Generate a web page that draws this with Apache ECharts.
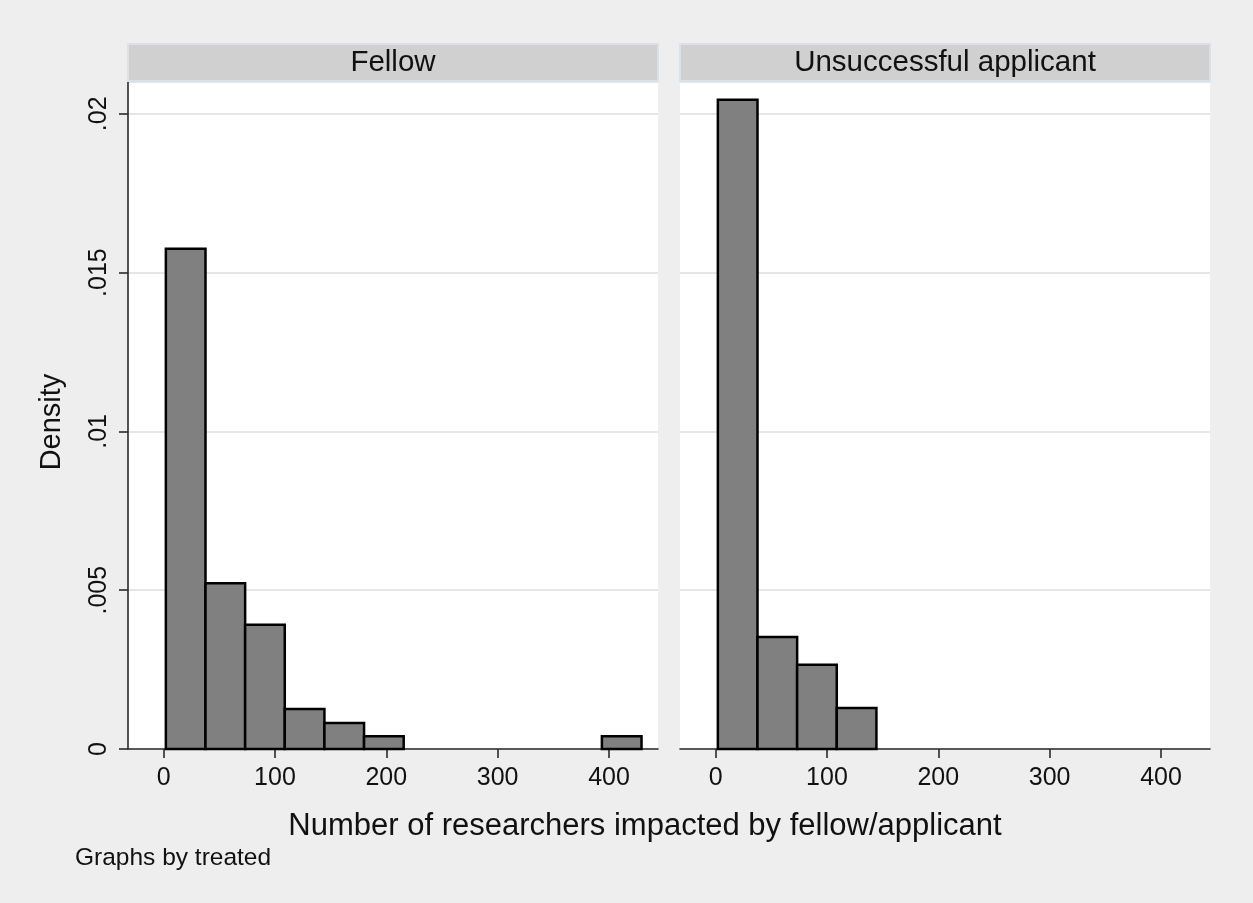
<!DOCTYPE html>
<html>
<head>
<meta charset="utf-8">
<script src="https://cdn.jsdelivr.net/npm/echarts@6/dist/echarts.min.js"></script>
<style>
  html, body { margin: 0; padding: 0; background: #eeeeee; }
  #chart { width: 1253px; height: 903px; }
</style>
</head>
<body>
<div id="chart"></div>
<script>
// Histogram bin edges (number of researchers impacted), shared by both panels
const binEdges = [2, 37.6, 73.2, 108.8, 144.4, 180, 215.6, 251.2, 286.8, 322.4, 358, 393.6, 429.2];
// Density per bin, one value per bin (0 = empty bin)
const fellowDensity = [0.01575, 0.00522, 0.00391, 0.00126, 0.00082, 0.0004, 0, 0, 0, 0, 0, 0.0004];
const applicantDensity = [0.02044, 0.00353, 0.00265, 0.00129, 0, 0, 0, 0, 0, 0, 0, 0];
// Panel titles and axis text
const panelTitles = ['Fellow', 'Unsuccessful applicant'];
const xTicks = [0, 100, 200, 300, 400];
const yTickStep = 0.005;
const xTitle = 'Number of researchers impacted by fellow/applicant';
const yTitle = 'Density';
const noteText = 'Graphs by treated';

const FONT = '"Liberation Sans", Arial, Helvetica, sans-serif';

function binsToData(dens) {
  const out = [];
  dens.forEach((d, i) => {
    if (d > 0) out.push([binEdges[i], binEdges[i + 1], d]);
  });
  return out;
}

function renderBar(params, api) {
  const p0 = api.coord([api.value(0), api.value(2)]);
  const p1 = api.coord([api.value(1), 0]);
  return {
    type: 'rect',
    shape: { x: p0[0], y: p0[1], width: p1[0] - p0[0], height: p1[1] - p0[1] },
    style: { fill: '#808080', stroke: '#000', lineWidth: 2.5 }
  };
}

const grids = [
  { left: 128, right: 1253 - 658, top: 82, bottom: 903 - 749 },
  { left: 680, right: 1253 - 1210, top: 82, bottom: 903 - 749 }
];

function xAxisFor(i) {
  return {
    type: 'value', gridIndex: i, min: -32, max: 444,
    axisLine: { show: true, onZero: false, lineStyle: { color: '#2a2a2a', width: 1.6 } },
    axisTick: { show: true, customValues: xTicks, length: 9, lineStyle: { color: '#2a2a2a', width: 1.6 } },
    axisLabel: { customValues: xTicks, fontFamily: FONT, fontSize: 25, color: '#111', margin: 17 },
    splitLine: { show: false }
  };
}

function yAxisFor(i) {
  const first = i === 0;
  return {
    type: 'value', gridIndex: i, min: 0, max: 0.021, interval: yTickStep,
    axisLine: { show: first, onZero: false, lineStyle: { color: '#2a2a2a', width: 1.6 } },
    axisTick: { show: first, length: 9, lineStyle: { color: '#2a2a2a', width: 1.6 } },
    axisLabel: {
      show: first, rotate: 90, showMaxLabel: false, margin: 16,
      fontFamily: FONT, fontSize: 25, color: '#111',
      formatter: v => (v === 0 ? '0' : String(+v.toFixed(3)).replace(/^0/, ''))
    },
    splitLine: { show: true, lineStyle: { color: '#e6e6e6', width: 2 } }
  };
}

const headerGraphics = [];
grids.forEach((g, i) => {
  const x0 = g.left, x1 = 1253 - g.right;
  headerGraphics.push({
    type: 'rect', z: 10,
    shape: { x: x0, y: 44, width: x1 - x0, height: 37 },
    style: { fill: '#d0d0d0', stroke: '#dae2e8', lineWidth: 2 }
  });
  headerGraphics.push({
    type: 'text', z: 11,
    x: (x0 + x1) / 2, y: 63,
    style: { text: panelTitles[i], fontFamily: FONT, fontSize: 29.5, fill: '#111', align: 'center', verticalAlign: 'middle' }
  });
});

const option = {
  backgroundColor: '#eeeeee',
  animation: false,
  grid: grids.map(g => Object.assign({ show: true, backgroundColor: '#ffffff', borderWidth: 0 }, g)),
  xAxis: [xAxisFor(0), xAxisFor(1)],
  yAxis: [yAxisFor(0), yAxisFor(1)],
  series: [
    { type: 'custom', xAxisIndex: 0, yAxisIndex: 0, renderItem: renderBar, data: binsToData(fellowDensity), encode: { x: [0, 1], y: 2 } },
    { type: 'custom', xAxisIndex: 1, yAxisIndex: 1, renderItem: renderBar, data: binsToData(applicantDensity), encode: { x: [0, 1], y: 2 } }
  ],
  graphic: headerGraphics.concat([
    {
      type: 'text', x: 645, y: 826,
      style: { text: xTitle, fontFamily: FONT, fontSize: 31, fill: '#111', align: 'center', verticalAlign: 'middle' }
    },
    {
      type: 'text', x: 52, y: 422, rotation: Math.PI / 2,
      style: { text: yTitle, fontFamily: FONT, fontSize: 29, fill: '#111', align: 'center', verticalAlign: 'middle' }
    },
    {
      type: 'text', x: 75, y: 858,
      style: { text: noteText, fontFamily: FONT, fontSize: 24.5, fill: '#111', align: 'left', verticalAlign: 'middle' }
    }
  ])
};

const chart = echarts.init(document.getElementById('chart'), null, { renderer: 'canvas' });
chart.setOption(option);
</script>
</body>
</html>
